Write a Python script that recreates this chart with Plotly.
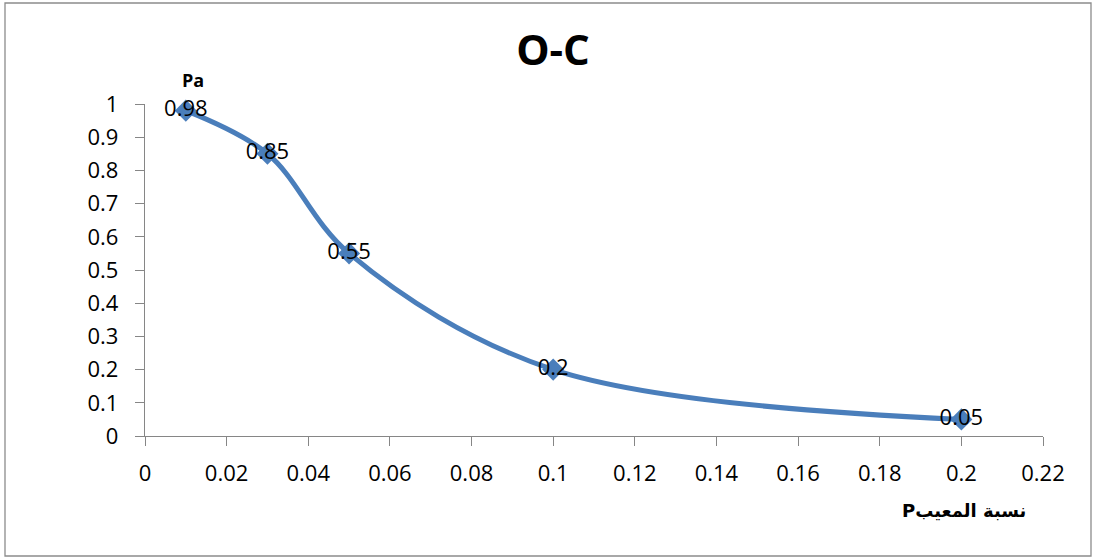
import plotly.graph_objects as go

# Operating characteristic curve: defect fraction vs acceptance probability
defect_fraction = [0.01, 0.03, 0.05, 0.1, 0.2]
accept_prob = [0.98, 0.85, 0.55, 0.2, 0.05]
point_labels = ["0.98", "0.85", "0.55", "0.2", "0.05"]

x_ticks = [0, 0.02, 0.04, 0.06, 0.08, 0.1, 0.12, 0.14, 0.16, 0.18, 0.2, 0.22]
x_tick_text = ["0", "0.02", "0.04", "0.06", "0.08", "0.1", "0.12", "0.14", "0.16", "0.18", "0.2", "0.22"]
y_ticks = [0, 0.1, 0.2, 0.3, 0.4, 0.5, 0.6, 0.7, 0.8, 0.9, 1]
y_tick_text = ["0", "0.1", "0.2", "0.3", "0.4", "0.5", "0.6", "0.7", "0.8", "0.9", "1"]

FONT = "Open Sans, Noto Sans, DejaVu Sans, sans-serif"
BLUE = "#4A7EBB"
AXIS = "#868686"

# plot-area geometry in pixels
L, R, T, B = 145, 50, 104, 122
PW, PH = 1093 - L - R, 558 - T - B


def px(x):
    return (x - L) / PW


def py(y):
    return (558 - B - y) / PH


fig = go.Figure()
fig.add_trace(go.Scatter(
    x=defect_fraction,
    y=accept_prob,
    mode="lines+markers+text",
    line=dict(color=BLUE, width=5, shape="spline", smoothing=1.0),
    marker=dict(symbol="diamond", size=17, color=BLUE),
    text=point_labels,
    textposition="middle center",
    textfont=dict(family=FONT, size=22, color="#000000"),
    cliponaxis=False,
    hoverinfo="x+y",
    showlegend=False,
))

fig.update_layout(
    width=1093,
    height=558,
    margin=dict(l=L, r=R, t=T, b=B),
    paper_bgcolor="white",
    plot_bgcolor="white",
    font=dict(family=FONT, size=22, color="#000000"),
    title=dict(
        text="<b>O-C</b>",
        x=px(553), xref="paper", xanchor="center",
        y=1 - 50 / 558, yref="container", yanchor="middle",
        font=dict(family=FONT, size=42, color="#000000"),
    ),
)

fig.update_xaxes(
    range=[0, 0.22],
    tickmode="array", tickvals=x_ticks, ticktext=x_tick_text,
    showgrid=False, zeroline=False,
    showline=True, linecolor=AXIS, linewidth=1.3,
    ticks="outside", ticklen=9, tickcolor=AXIS, tickwidth=1.3,
    ticklabelstandoff=8,
    tickfont=dict(family=FONT, size=22, color="#000000"),
)
fig.update_yaxes(
    range=[0, 1],
    tickmode="array", tickvals=y_ticks, ticktext=y_tick_text,
    showgrid=False, zeroline=False,
    showline=True, linecolor=AXIS, linewidth=1.3,
    ticks="outside", ticklen=9, tickcolor=AXIS, tickwidth=1.3,
    ticklabelstandoff=12,
    tickfont=dict(family=FONT, size=22, color="#000000"),
)

# axis captions
fig.add_annotation(
    text="<b>Pa</b>", x=px(193), y=py(80),
    xref="paper", yref="paper", xanchor="center", yanchor="middle",
    showarrow=False,
    font=dict(family=FONT, size=18, color="#000000"),
)
fig.add_annotation(
    text="<b>Pنسبة المعيب</b>", x=px(964), y=py(510),
    xref="paper", yref="paper", xanchor="center", yanchor="middle",
    showarrow=False,
    font=dict(family="DejaVu Sans, Noto Sans, sans-serif", size=18, color="#000000"),
)

# outer chart frame
fig.add_shape(
    type="rect", xref="paper", yref="paper",
    x0=px(5), x1=px(1091),
    y0=py(556), y1=py(3),
    line=dict(color="#8C8C8C", width=1.3), fillcolor="rgba(0,0,0,0)",
    layer="below",
)

fig.write_html("out.html")
